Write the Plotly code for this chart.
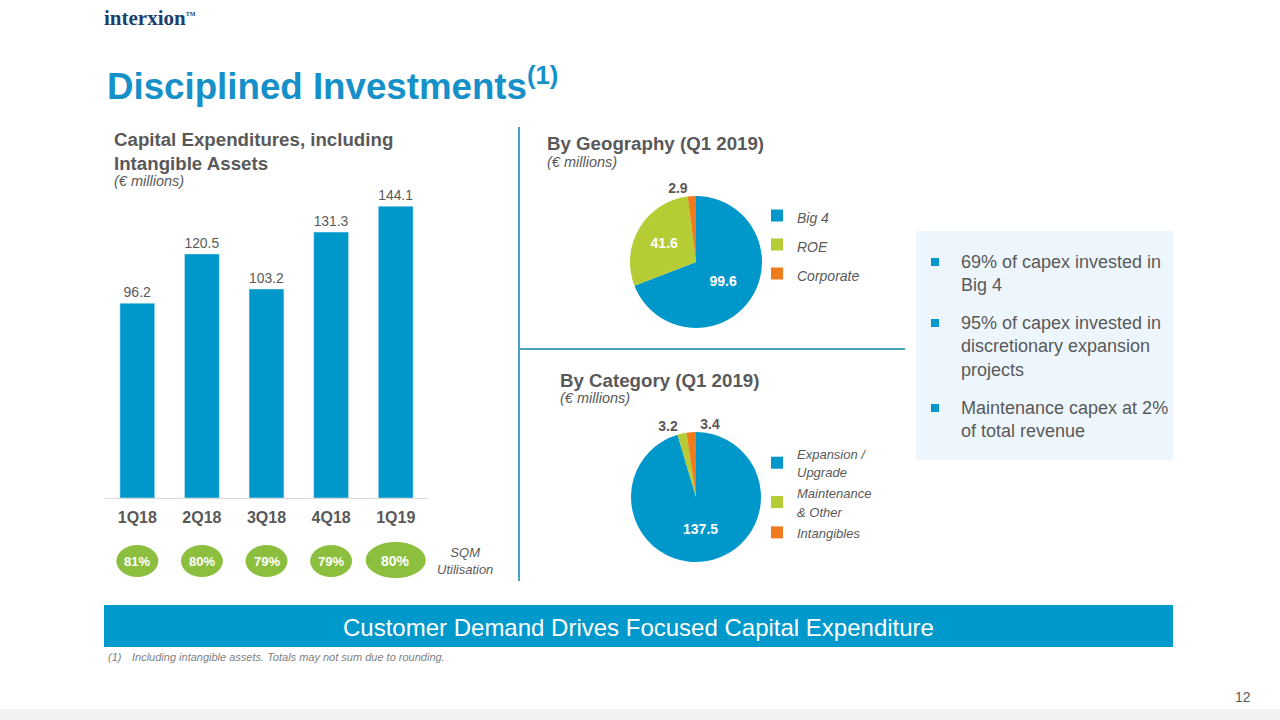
import plotly.graph_objects as go

W, H = 1280, 720
def px(x): return x / W
def py(y): return 1 - y / H

# ---------------- data ----------------
quarters = ["1Q18", "2Q18", "3Q18", "4Q18", "1Q19"]
capex = [96.2, 120.5, 103.2, 131.3, 144.1]
sqm_util = ["81%", "80%", "79%", "79%", "80%"]

geo_labels = ["Big 4", "ROE", "Corporate"]
geo_values = [99.6, 41.6, 2.9]

cat_labels = ["Expansion /<br>Upgrade", "Maintenance<br>& Other", "Intangibles"]
cat_values = [137.5, 3.2, 3.4]

bullets = [
    "69% of capex invested in<br>Big 4",
    "95% of capex invested in<br>discretionary expansion<br>projects",
    "Maintenance capex at 2%<br>of total revenue",
]

# ---------------- styles ----------------
BLUE = "#0098cb"
GREEN = "#b5cc35"
ORANGE = "#ef7b1c"
ELL_GREEN = "#8dbf3f"
GRAY = "#595959"
TITLE_BLUE = "#1590c8"
LINE_BLUE = "#4aa3c0"
FONT = "Liberation Sans, Arial, sans-serif"

def small(label, size=13):
    return "<br>".join(f"<span style='font-size:{size}px'>{p}</span>" for p in label.split("<br>"))

fig = go.Figure()

fig.add_trace(go.Bar(
    x=quarters, y=capex, marker_color=BLUE, showlegend=False,
    text=[f"{v:.1f}" for v in capex], textposition="outside",
    textfont=dict(size=14, color=GRAY, family=FONT), cliponaxis=False,
    xaxis="x", yaxis="y", hoverinfo="x+y",
))

pie_text_in = dict(size=14, color="white", family=FONT, weight="bold")
pie_text_out = dict(size=14, color=GRAY, family=FONT, weight="bold")

fig.add_trace(go.Pie(
    labels=[small(l, 14) for l in geo_labels], values=geo_values, sort=False,
    direction="clockwise",
    marker=dict(colors=[BLUE, GREEN, ORANGE], line=dict(width=0)),
    texttemplate="%{value:.1f}", textposition=["inside", "inside", "outside"],
    insidetextorientation="horizontal",
    insidetextfont=pie_text_in, outsidetextfont=pie_text_out,
    domain=dict(x=[px(630), px(762)], y=[py(328), py(196)]),
    legend="legend", hoverinfo="label+value",
))

cat_domain = dict(x=[px(631), px(761)], y=[py(562), py(432)])
fig.add_trace(go.Pie(
    labels=[small(l) for l in cat_labels], values=cat_values, sort=False,
    direction="clockwise",
    marker=dict(colors=[BLUE, GREEN, ORANGE], line=dict(width=0)),
    texttemplate="%{value:.1f}", textposition=["inside", "outside", "none"],
    insidetextorientation="horizontal",
    insidetextfont=pie_text_in, outsidetextfont=pie_text_out,
    domain=cat_domain, legend="legend2", hoverinfo="label+value",
))
# transparent twin pie: places the last outside label on its own (avoids label stacking)
fig.add_trace(go.Pie(
    labels=cat_labels, values=cat_values, sort=False, direction="clockwise",
    rotation=4.5,
    marker=dict(colors=["rgba(0,0,0,0)"] * 3, line=dict(width=0)),
    texttemplate="%{value:.1f}", textposition=["none", "none", "outside"],
    outsidetextfont=pie_text_out, domain=cat_domain, showlegend=False, hoverinfo="skip",
))

shapes = []
annotations = []

def text(x, y, s, size=14, color=GRAY, bold=False, italic=False, xanchor="left",
         yanchor="middle", align="left", family=FONT):
    annotations.append(dict(
        x=px(x), y=py(y), xref="paper", yref="paper", text=s, showarrow=False,
        xanchor=xanchor, yanchor=yanchor, align=align,
        font=dict(size=size, color=color, family=family,
                  weight="bold" if bold else "normal",
                  style="italic" if italic else "normal"),
    ))

def rect(x0, y0, x1, y1, color):
    shapes.append(dict(type="rect", xref="paper", yref="paper",
                       x0=px(x0), x1=px(x1), y0=py(y1), y1=py(y0),
                       fillcolor=color, line=dict(width=0), layer="below"))

def hline(x0, x1, y, color, width=2):
    shapes.append(dict(type="line", xref="paper", yref="paper", x0=px(x0), x1=px(x1),
                       y0=py(y), y1=py(y), line=dict(color=color, width=width)))

def vline(x, y0, y1, color, width=2):
    shapes.append(dict(type="line", xref="paper", yref="paper", x0=px(x), x1=px(x),
                       y0=py(y0), y1=py(y1), line=dict(color=color, width=width)))

# logo
text(102, 18, "interxion<sup><span style='font-size:6px'>TM</span></sup>", size=21,
     color="#1c3f6e", bold=True, family="Liberation Serif, Times New Roman, serif")
# title
text(105, 84, "Disciplined Investments<sup>(1)</sup>", size=36.7, color=TITLE_BLUE, bold=True)

# bar chart titles
text(112, 151, "Capital Expenditures, including<br>Intangible Assets", size=18.7, bold=True)
text(112, 181, "(€ millions)", size=14.5, italic=True)

# pies titles
text(545, 144, "By Geography (Q1 2019)", size=18.7, bold=True)
text(545, 162, "(€ millions)", size=14.5, italic=True)
text(558, 380, "By Category (Q1 2019)", size=18.7, bold=True)
text(558, 398, "(€ millions)", size=14.5, italic=True)

# dividers
vline(519, 127, 581, LINE_BLUE)
hline(519, 905, 349, LINE_BLUE)

# SQM utilisation ellipses
for i, s in enumerate(sqm_util):
    big = i == len(sqm_util) - 1
    hw = 0.465 if big else 0.325
    h0, h1 = (542, 578) if big else (545, 577)
    shapes.append(dict(type="circle", xref="x", yref="paper",
                       x0=i - hw, x1=i + hw, y0=py(h1), y1=py(h0),
                       fillcolor=ELL_GREEN, line=dict(width=0)))
    annotations.append(dict(x=quarters[i], y=py(561), xref="x", yref="paper", text=s,
                            showarrow=False, xanchor="center", yanchor="middle",
                            font=dict(size=14 if big else 13, color="white",
                                      family=FONT, weight="bold")))
text(465, 561, "SQM<br>Utilisation", size=13, italic=True, xanchor="center", align="center")

# bullet box
rect(916, 231, 1173, 460, "#eef6fd")
bullet_y = [262, 323, 408]
for by, b in zip(bullet_y, bullets):
    rect(931, by - 4, 939, by + 4, BLUE)
    text(959, by - 12, b, size=18, yanchor="top")

# banner
rect(104, 605, 1173, 647, "#0099cc")
text(638, 627, "Customer Demand Drives Focused Capital Expenditure", size=24,
     color="white", xanchor="center")
text(106, 657, "(1)", size=11, italic=True, color="#808080")
text(130, 657, "Including intangible assets. Totals may not sum due to rounding.",
     size=11, italic=True, color="#808080")

# page number + bottom strip
text(1243, 697, "12", size=14, color=GRAY, xanchor="center")
rect(0, 709, 1280, 720, "#f2f2f2")

fig.update_layout(
    width=W, height=H, margin=dict(l=0, r=0, t=0, b=0),
    paper_bgcolor="white", plot_bgcolor="white",
    font=dict(family=FONT, color=GRAY),
    bargap=0.46,
    xaxis=dict(domain=[px(105), px(428)], showgrid=False, ticks="",
               showline=True, linecolor="#d9d9d9", linewidth=1, ticklabelstandoff=5,
               tickfont=dict(size=16, color=GRAY, family=FONT, weight="bold"),
               fixedrange=True),
    yaxis=dict(domain=[py(498), py(180)], range=[0, 157], visible=False,
               showgrid=False, zeroline=False, fixedrange=True),
    legend=dict(x=px(757), y=py(196), xanchor="left", yanchor="top",
                bgcolor="rgba(0,0,0,0)",
                font=dict(size=20, color=GRAY, family=FONT, style="italic")),
    legend2=dict(x=px(757), y=py(438), xanchor="left", yanchor="top",
                 bgcolor="rgba(0,0,0,0)",
                 font=dict(size=14, color=GRAY, family=FONT, style="italic")),
    shapes=shapes, annotations=annotations,
)

fig.write_html("out.html", config={"displayModeBar": False},
               post_script="document.body.style.margin='0px';document.body.style.overflow='hidden';")
